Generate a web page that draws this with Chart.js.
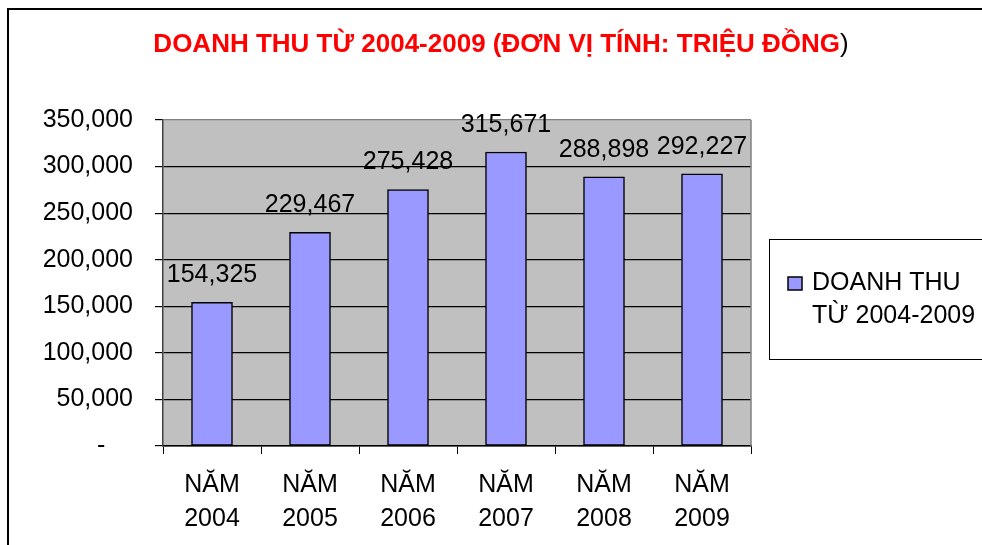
<!DOCTYPE html>
<html>
<head>
<meta charset="utf-8">
<script src="https://cdn.jsdelivr.net/npm/chart.js@4.4.1/dist/chart.umd.min.js"></script>
<style>
  html, body { margin: 0; padding: 0; background: #fff; }
  #wrap { width: 982px; height: 545px; }
</style>
</head>
<body>
<div id="wrap"><canvas id="myChart" width="982" height="545"></canvas></div>
<script>
const years = ["2004", "2005", "2006", "2007", "2008", "2009"];
const revenue = [154325, 229467, 275428, 315671, 288898, 292227];
const yTicks = [0, 50000, 100000, 150000, 200000, 250000, 300000, 350000];
const titleText = "DOANH THU TỪ 2004-2009 (ĐƠN VỊ TÍNH: TRIỆU ĐỒNG";
const seriesName = ["DOANH THU", "TỪ 2004-2009"];

const FONT = "'Liberation Sans', Arial, sans-serif";
const fmt = (v) => v.toLocaleString("en-US");

// plot background + right grey border
const plotFrame = {
  id: "plotFrame",
  beforeDraw(chart) {
    const { ctx, chartArea: a } = chart;
    ctx.save();
    ctx.fillStyle = "#c0c0c0";
    ctx.fillRect(a.left, a.top, a.right - a.left, a.bottom - a.top);
    ctx.restore();
  },
  beforeDatasetsDraw(chart) {
    const { ctx, chartArea: a } = chart;
    ctx.save();
    ctx.strokeStyle = "#808080";
    ctx.lineWidth = 1.5;
    ctx.beginPath();
    ctx.moveTo(a.right, a.top);
    ctx.lineTo(a.right, a.bottom);
    ctx.stroke();
    ctx.restore();
  },
};

// value labels above each bar
const valueLabels = {
  id: "valueLabels",
  afterDatasetsDraw(chart) {
    const { ctx } = chart;
    const meta = chart.getDatasetMeta(0);
    ctx.save();
    ctx.font = "25px " + FONT;
    ctx.fillStyle = "#000";
    ctx.textAlign = "center";
    ctx.textBaseline = "alphabetic";
    meta.data.forEach((bar, i) => {
      ctx.fillText(fmt(revenue[i]), bar.x, bar.y - 20);
    });
    ctx.restore();
  },
};

// title, legend box and outer frame
const decorations = {
  id: "decorations",
  afterDraw(chart) {
    const { ctx, width, height } = chart;
    ctx.save();
    // outer frame (runs off the right and bottom edges)
    ctx.strokeStyle = "#000";
    ctx.lineWidth = 2;
    ctx.beginPath();
    ctx.moveTo(8, height + 20);
    ctx.lineTo(8, 9);
    ctx.lineTo(width + 20, 9);
    ctx.stroke();

    // title: red bold + black ")"
    ctx.font = "bold 26px " + FONT;
    const w1 = ctx.measureText(titleText).width;
    ctx.font = "26px " + FONT;
    const w2 = ctx.measureText(")").width;
    const x = 501 - (w1 + w2) / 2;
    ctx.textBaseline = "alphabetic";
    ctx.textAlign = "left";
    ctx.font = "bold 26px " + FONT;
    ctx.fillStyle = "#ff0000";
    ctx.fillText(titleText, x, 52);
    ctx.font = "26px " + FONT;
    ctx.fillStyle = "#000";
    ctx.fillText(")", x + w1, 52);

    // legend box
    ctx.strokeStyle = "#000";
    ctx.lineWidth = 1;
    ctx.strokeRect(769.5, 239.5, 260, 120);
    ctx.fillStyle = "#9999ff";
    ctx.fillRect(788, 277, 14, 13);
    ctx.lineWidth = 1.5;
    ctx.strokeRect(788, 277, 14, 13);
    ctx.fillStyle = "#000";
    ctx.font = "25px " + FONT;
    ctx.fillText(seriesName[0], 812, 290);
    ctx.fillText(seriesName[1], 812, 323);
    ctx.restore();
  },
};

const ctx = document.getElementById("myChart").getContext("2d");
new Chart(ctx, {
  type: "bar",
  data: {
    labels: years.map((y) => ["NĂM", y]),
    datasets: [
      {
        label: seriesName.join(" "),
        data: revenue,
        backgroundColor: "#9999ff",
        borderColor: "#000",
        borderWidth: 1.5,
        borderSkipped: false,
        barThickness: 41,
      },
    ],
  },
  options: {
    responsive: false,
    animation: false,
    layout: { padding: { left: 0, top: 120, right: 231, bottom: 0 } },
    plugins: {
      legend: { display: false },
      title: { display: false },
      tooltip: { enabled: false },
    },
    scales: {
      x: {
        offset: true,
        grid: {
          offset: true,
          drawOnChartArea: false,
          color: "#000",
          tickLength: 8,
          lineWidth: 1,
        },
        border: { color: "#000", width: 1.5 },
        ticks: {
          color: "#000",
          padding: 14,
          maxRotation: 0,
          font: { family: FONT, size: 25, lineHeight: 1.36 },
        },
        afterFit: (s) => { s.height = 99; },
      },
      y: {
        min: 0,
        max: 350000,
        afterBuildTicks: (s) => { s.ticks = yTicks.map((v) => ({ value: v })); },
        grid: {
          color: (c) => (c.tick && c.tick.value === 350000 ? "#808080" : "#000"),
          tickColor: "#000",
          tickLength: 8,
          lineWidth: 1.2,
        },
        border: { color: "#404040", width: 1.5 },
        ticks: {
          color: "#000",
          padding: 22,
          font: { family: FONT, size: 25 },
          callback: (v) => (v === 0 ? "-\u00a0\u00a0\u00a0\u00a0" : fmt(v)),
        },
        afterFit: (s) => { s.width = 163; },
      },
    },
  },
  plugins: [plotFrame, valueLabels, decorations],
});
</script>
</body>
</html>
